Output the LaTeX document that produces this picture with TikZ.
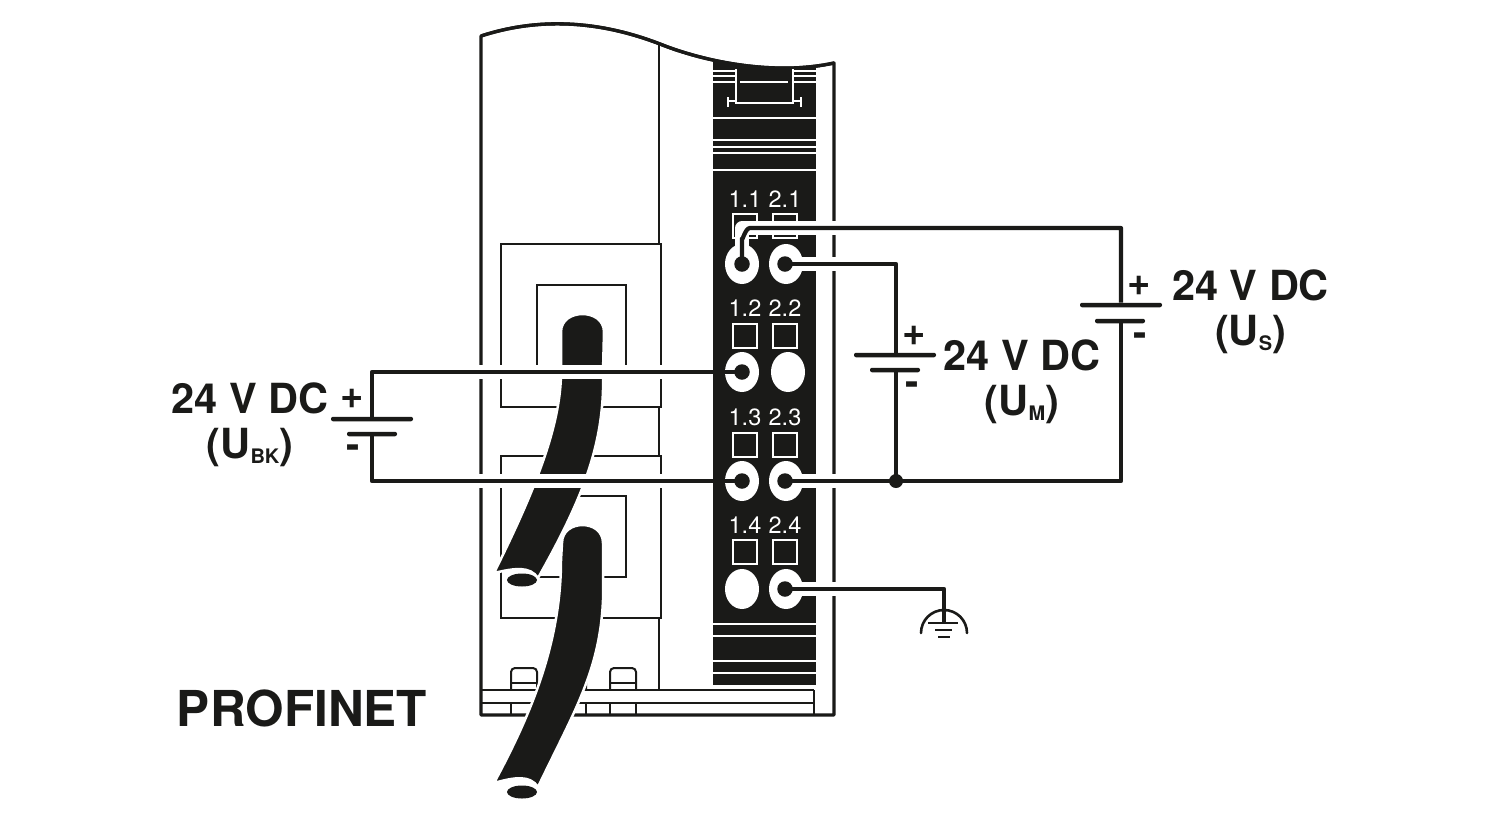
\documentclass[tikz,border=0pt]{standalone}
\usepackage{fontspec}
\setmainfont{TeX Gyre Heros}
\usetikzlibrary{shapes.geometric}
\definecolor{ink}{HTML}{1A1A18}
\newcommand{\subU}[1]{(U\raisebox{-4.5pt}{\fontsize{20}{20}\selectfont #1})}
\newcommand{\housingpath}{(481,715) -- (481,36) .. controls (530,20) and (590,17) .. (660,44) .. controls (705,62) and (775,76) .. (834,63) -- (834,715) -- cycle}
\tikzset{
  outer/.style={draw=ink,line width=3.3pt,line join=round},
  thin/.style={draw=ink,line width=2pt},
  strippe/.style={draw=white,line width=2pt},
  cable/.style={fill=ink,draw=white,line width=2.5pt},
  halo/.style={draw=white,line width=13.5pt,line cap=round,line join=round},
  wire/.style={draw=ink,line width=4.2pt,line join=round},
  pad/.style={ellipse,fill=white,minimum width=34pt,minimum height=40pt,inner sep=0pt},
  dot/.style={circle,fill=ink,minimum size=15.5pt,inner sep=0pt},
  sq/.style={draw=white,line width=2pt,minimum size=24pt,inner sep=0pt},
  pin/.style={text=white,font=\fontsize{23.5}{24}\selectfont,inner sep=0pt},
  plate/.style={fill=ink,minimum height=4.5pt,inner sep=0pt,rounded corners=2pt},
  sign/.style={font=\bfseries\fontsize{40}{40}\selectfont,text=ink,inner sep=0pt},
  volt/.style={font=\bfseries\fontsize{41.5}{45}\selectfont,text=ink,align=center,inner sep=0pt},
  junction/.style={circle,fill=ink,minimum size=14pt,inner sep=0pt},
}
\begin{document}
\begin{tikzpicture}[x=1pt,y=-1pt]
\useasboundingbox (0,0) rectangle (1500,820);
\fill[white] (0,0) rectangle (1500,820);
% inner housing lines
\draw[thin] (659,44) -- (659,244);
\draw[thin] (501,244) rectangle (661,407);
\draw[thin] (659,407) -- (659,456);
\draw[thin] (501,456) rectangle (661,618);
\draw[thin] (659,618) -- (659,690);
\draw[thin] (537,372) -- (537,285) -- (626,285) -- (626,372);
\draw[thin] (537,496) rectangle (626,577);
% clips
\foreach \a/\b in {511/537,560/586,610/636}{
  \draw[thin,rounded corners=4pt] (\a,690) -- (\a,668) -- (\b,668) -- (\b,690);
  \draw[thin] (\a,683) -- (\b,683);
  \draw[thin] (\a,703) -- (\a,715);
  \draw[thin] (\b,703) -- (\b,715);
}
\draw[thin] (481,690) -- (814,690);
\draw[thin] (481,703) -- (814,703);
\draw[thin] (814,690) -- (814,715);
% housing
\draw[outer] \housingpath;
% cable 1
\fill[ink] (522,580) ellipse (15 and 6.5);
\draw[cable] (494,573) .. controls (530,500) and (561,430) .. (561,372) -- (561,332) .. controls (561,308) and (604,308) .. (604,332) -- (603,372) .. controls (605,440) and (585,495) .. (538,578) .. controls (530,566) and (515,568) .. (494,573) -- cycle;
% cable 2
\fill[ink] (522,792) ellipse (15 and 6.5);
\draw[cable] (494,783) .. controls (525,725) and (561,650) .. (561,560) -- (562,543) .. controls (562,519) and (603,519) .. (603,543) -- (603,600) .. controls (600,670) and (575,710) .. (538,787) .. controls (530,775) and (515,777) .. (494,783) -- cycle;
% halos left of the strip
\draw[halo] (464,372) -- (730,372);
\draw[halo] (454,481) -- (730,481);
% black strip
\begin{scope}
\clip \housingpath;
\fill[ink] (713,30) rectangle (815.5,685);
\foreach \y in {118,140,147,153,169.5,624,636,661,673}{
  \draw[strippe] (713,\y) -- (815.5,\y);
}
\foreach \y in {71,76,82}{
  \draw[strippe] (713,\y) -- (736,\y);
  \draw[strippe] (793,\y) -- (815.5,\y);
}
\end{scope}
\draw[outer] (481,36) .. controls (530,20) and (590,17) .. (660,44) .. controls (705,62) and (775,76) .. (834,63);
\draw[strippe] (736,69) -- (736,103) -- (793,103) -- (793,69);
\draw[strippe] (728,97) -- (728,107);
\draw[strippe] (728,101) -- (736,101);
\draw[strippe] (801,97) -- (801,107);
\draw[strippe] (793,101) -- (801,101);
\draw[strippe,line width=1.5pt] (740,82) -- (788,82);
% pin labels and squares
\foreach \n/\x/\y in {1.1/745/199,2.1/785/199,1.2/745/308,2.2/785/308,1.3/745/417,2.3/785/417,1.4/745/525,2.4/785/525}{
  \node[pin] (lab\n) at (\x,\y) {\n};
}
\node[sq] (s11) at (744.5,225.5) {};
\node[sq] (s21) at (784.5,225.5) {};
\node[sq] (s12) at (744.5,335.5) {};
\node[sq] (s22) at (784.5,335.5) {};
\node[sq] (s13) at (744.5,444.5) {};
\node[sq] (s23) at (784.5,444.5) {};
\node[sq] (s14) at (744.5,551.5) {};
\node[sq] (s24) at (784.5,551.5) {};
% right-hand halos
\draw[halo] (742,264) -- (742,228) -- (851,228);
\draw[halo] (785,264) -- (868,264);
\draw[halo] (785,481) -- (878,481);
\draw[halo] (785,589) -- (858,589);
% pads
\node[pad] (p11) at (742,264) {};
\node[pad] (p21) at (786,264) {};
\node[pad] (p12) at (742,372) {};
\node[pad] (p22) at (788,372) {};
\node[pad] (p13) at (742,481) {};
\node[pad] (p23) at (786,481) {};
\node[pad] (p14) at (742,589) {};
\node[pad] (p24) at (786,589) {};
\node[dot] (d11) at (742,264) {};
\node[dot] (d21) at (785,264) {};
\node[dot] (d12) at (742,372) {};
\node[dot] (d13) at (742,481) {};
\node[dot] (d23) at (785,481) {};
\node[dot] (d24) at (785,589) {};
% batteries
\node[plate,minimum width=82pt] (rl) at (1121,305) {};
\node[plate,minimum width=50pt] (rs) at (1120,321) {};
\node[plate,minimum width=82pt] (ml) at (895,355) {};
\node[plate,minimum width=50pt] (ms) at (895,370) {};
\node[plate,minimum width=82pt] (ll) at (372,419) {};
\node[plate,minimum width=50pt] (ls) at (372,434) {};
\coordinate (rtop) at (1121,228);
\coordinate (rbot) at (1121,481);
\coordinate (mtop) at (896,264);
\node[junction] (j) at (896,481) {};
\coordinate (ltop) at (372,372);
\coordinate (lbot) at (372,481);
% wires
\draw[wire] (d11.center) -- (742,238) to[out=-90,in=180] (750,228) -- (rtop) -- (rl.north -| rtop);
\draw[wire] (rs.south -| rbot) -- (rbot) -- (j.center) -- (d23.center);
\draw[wire] (d21.center) -- (mtop) -- (ml.north -| mtop);
\draw[wire] (ms.south -| mtop) -- (j.center);
\draw[wire] (d12.center) -- (ltop) -- (ll.north -| ltop);
\draw[wire] (ls.south -| lbot) -- (lbot) -- (d13.center);
% ground
\coordinate (gtop) at (944,589);
\coordinate (gbar) at (944,623);
\draw[wire] (d24.center) -- (gtop) -- (gbar);
\draw[draw=ink,line width=2.6pt,line cap=round] (921,633) arc[start angle=180,end angle=360,radius=23];
\fill[ink] (928,621.7) rectangle (958,624.3);
\fill[ink] (935,628.7) rectangle (952,631.3);
\fill[ink] (938,635.7) rectangle (950,638.3);
% signs
\node[sign] (pr) at (1139,286) {+};
\node[sign] (mr) at (1140,340) {-};
\node[sign] (pm) at (914,336) {+};
\node[sign] (mm) at (912,389) {-};
\node[sign] (pl) at (352,399) {+};
\node[sign] (ml2) at (353,452) {-};
% labels
\node[volt] (vr) at (1250.5,312) {24 V DC\\\subU{S}};
\node[volt] (vm) at (1022,382) {24 V DC\\\subU{M}};
\node[volt] (vl) at (250,425) {24 V DC\\\subU{BK}};
\node[font=\bfseries\fontsize{49.5}{49}\selectfont,text=ink,inner sep=0pt] (pn) at (302,708) {PROFINET};
\end{tikzpicture}
\end{document}
